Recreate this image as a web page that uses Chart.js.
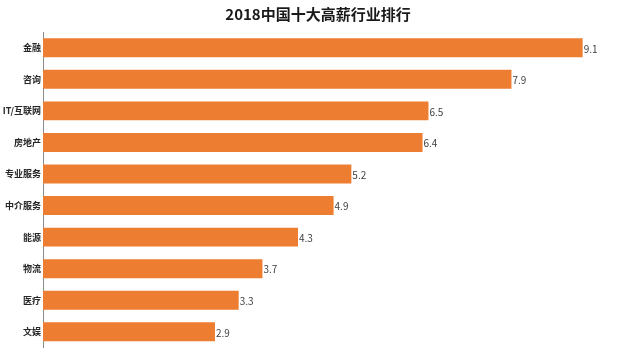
<!DOCTYPE html>
<html>
<head>
<meta charset="utf-8">
<script src="https://cdn.jsdelivr.net/npm/chart.js@4"></script>
<style>
html,body{margin:0;padding:0;background:#fff;}
#wrap{width:640px;height:355px;position:relative;}
</style>
</head>
<body>
<div id="wrap"><canvas id="c" width="640" height="355"></canvas></div>
<script>
const categories = ["金融","咨询","IT/互联网","房地产","专业服务","中介服务","能源","物流","医疗","文娱"];
const values = [9.1, 7.9, 6.5, 6.4, 5.2, 4.9, 4.3, 3.7, 3.3, 2.9];
const titleText = "2018中国十大高薪行业排行";

const FONT = "'Noto Sans CJK SC', 'Microsoft YaHei', sans-serif";

const labelPlugin = {
  id: 'barLabels',
  afterDatasetsDraw(chart) {
    const ctx = chart.ctx;
    const meta = chart.getDatasetMeta(0);
    ctx.save();
    ctx.font = "10px " + FONT;
    ctx.fillStyle = "#404040";
    ctx.textAlign = "left";
    ctx.textBaseline = "middle";
    meta.data.forEach((bar, i) => {
      ctx.fillText(String(values[i]), bar.x + 1, bar.y + 1);
    });
    ctx.restore();
  }
};

new Chart(document.getElementById('c'), {
  type: 'bar',
  data: {
    labels: categories,
    datasets: [{
      data: values,
      backgroundColor: '#ED7D31',
      borderWidth: 0,
      categoryPercentage: 0.6,
      barPercentage: 1.0
    }]
  },
  options: {
    indexAxis: 'y',
    responsive: false,
    animation: false,
    devicePixelRatio: 1,
    layout: { padding: { top: 0, bottom: 3, right: 4, left: 0 } },
    plugins: {
      legend: { display: false },
      tooltip: { enabled: false },
      title: {
        display: true,
        text: titleText,
        color: '#1a1a1a',
        font: { family: FONT, size: 15, weight: 'bold', lineHeight: 1.2 },
        padding: { top: 5, bottom: 9 }
      }
    },
    scales: {
      x: {
        display: false,
        min: 0,
        max: 10
      },
      y: {
        grid: { display: false, drawTicks: false },
        border: { display: true, color: '#8c8c8c', width: 1 },
        ticks: {
          color: '#262626',
          font: { family: FONT, size: 9, weight: 'bold' },
          padding: 2,
          autoSkip: false
        },
        afterFit(scale) { scale.width = 43; }
      }
    }
  },
  plugins: [labelPlugin]
});
</script>
</body>
</html>
